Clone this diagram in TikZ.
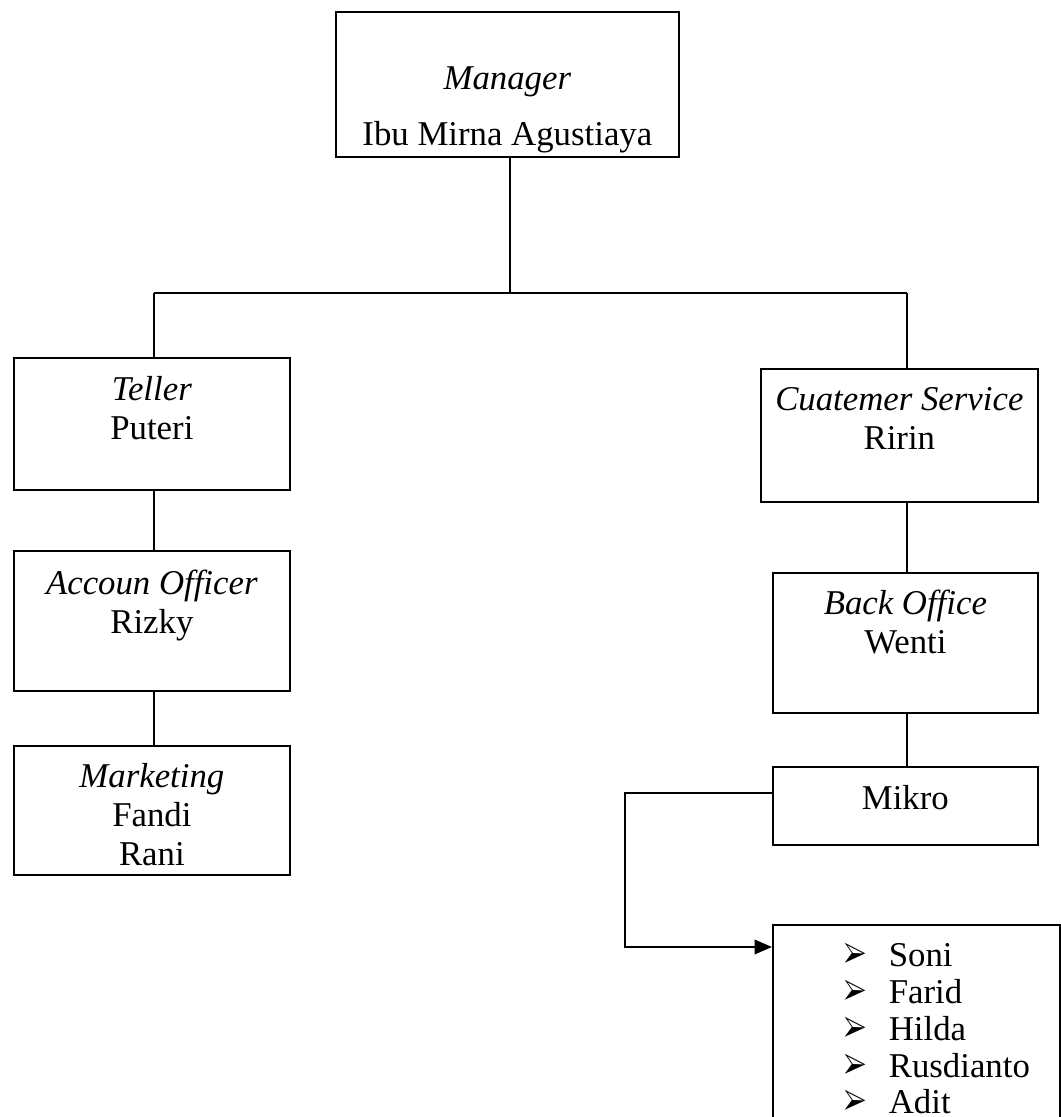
\documentclass[tikz,border=0pt]{standalone}
\usepackage{fontspec}
\setmainfont{Liberation Serif}
\usepackage{pifont}
\usetikzlibrary{arrows.meta}
\newlength{\px}
\setlength{\px}{0.345pt}
% box content: width, height, top gap, text
\newcommand{\cell}[4]{\parbox[c][#2\px][t]{#1\px}{\centering\vspace*{#3\px}\strut#4}}
% list bullet
\newcommand{\pointer}{\makebox[45\px][l]{\scalebox{0.7}[1.1]{\ding{226}}}}

\begin{document}
\begin{tikzpicture}[x=1\px, y=-1\px, font=\fontsize{12pt}{13.5pt}\selectfont]
    \tikzset{jabatan/.style={draw, shape=rectangle, line width=0.6pt, inner sep=0pt, anchor=north west}}
    \useasboundingbox (0,0) rectangle (1060,1117);
    \node[jabatan] (manager) at (335,11) {\cell{343}{145}{50}{\textit{Manager}\\[17\px]Ibu Mirna Agustiaya}};
    \node[jabatan] (teller) at (13,357) {\cell{276}{132}{15}{\textit{Teller}\\Puteri}};
    \node[jabatan] (ao) at (13,550) {\cell{276}{140}{16}{\textit{Accoun Officer}\\Rizky}};
    \node[jabatan] (mkt) at (13,745) {\cell{276}{129}{14}{\textit{Marketing}\\Fandi\\Rani}};
    \node[jabatan] (cs) at (760,368) {\cell{277}{133}{14}{\textit{Cuatemer Service}\\Ririn}};
    \node[jabatan] (bo) at (772,572) {\cell{265}{140}{14}{\textit{Back Office}\\Wenti}};
    \node[jabatan] (mikro) at (772,766) {\cell{265}{78}{15}{Mikro}};
    \node[jabatan] (staff) at (772,924) {\parbox[c][200\px][t]{287\px}{\fontsize{12pt}{12.7pt}\selectfont
        \vspace*{16\px}\leftskip=71\px
        \strut\pointer Soni\\
        \pointer Farid\\
        \pointer Hilda\\
        \pointer Rusdianto\\
        \pointer Adit}};
    \coordinate (join) at (510,293);
    \coordinate (armL) at (154,293);
    \coordinate (armR) at (907,293);
    \draw[line width=0.6pt] (manager.south -| join) -- (join);
    \draw[line width=0.6pt] (armL) -- (armR);
    \draw[line width=0.6pt] (armL) -- (teller.north -| armL);
    \draw[line width=0.6pt] (armR) -- (cs.north -| armR);
    \draw[line width=0.6pt] (teller.south -| armL) -- (ao.north -| armL);
    \draw[line width=0.6pt] (ao.south -| armL) -- (mkt.north -| armL);
    \draw[line width=0.6pt] (cs.south -| armR) -- (bo.north -| armR);
    \draw[line width=0.6pt] (bo.south -| armR) -- (mikro.north -| armR);
    \draw[line width=0.6pt, -{Triangle[length=6pt, width=5pt]}] ([yshift=13\px]mikro.west) -- ++(-147,0) |- ([yshift=-23\px]staff.north west);
\end{tikzpicture}
\end{document}
